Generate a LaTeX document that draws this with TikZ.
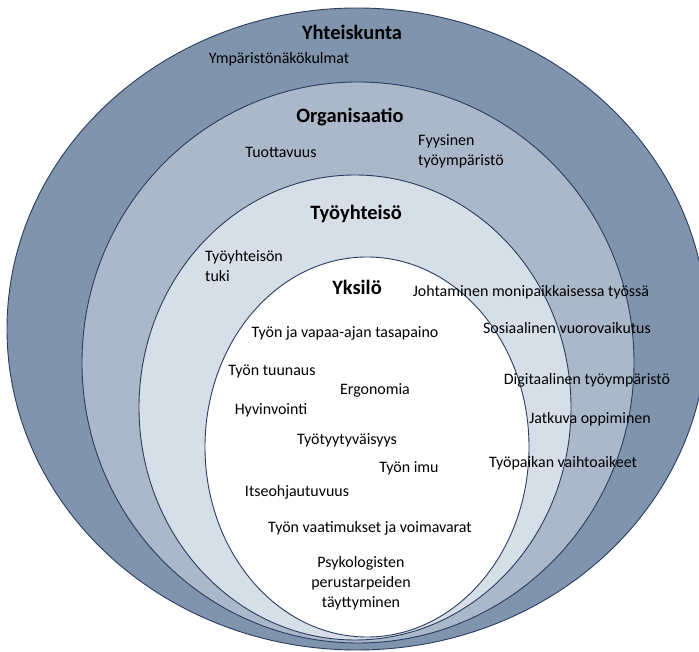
\documentclass[tikz,border=0pt]{standalone}
\usepackage{fontspec}
\setmainfont{Carlito}
\usetikzlibrary{positioning}

\definecolor{societycol}{rgb}{0.50,0.58,0.68}
\definecolor{orgcol}{rgb}{0.67,0.72,0.79}
\definecolor{teamcol}{rgb}{0.84,0.87,0.91}
\definecolor{edgecol}{rgb}{0.16,0.24,0.38}

\tikzset{
  ring/.style={draw=edgecol,line width=0.9bp},
  level/.style={font=\fontsize{20.5}{24}\selectfont\bfseries,inner sep=0pt},
  factor/.style={font=\fontsize{16}{20}\selectfont,inner sep=0pt},
}

\begin{document}
\begin{tikzpicture}[line join=bevel,]
\useasboundingbox (0bp,0bp) rectangle (699bp,652bp);
\clip (0bp,0bp) rectangle (699bp,652bp);

% Rings
\fill [societycol,ring] (357bp,323bp) ellipse [x radius=350bp,y radius=321bp];
\fill [orgcol,ring] (358bp,289.5bp) ellipse [x radius=276bp,y radius=280.5bp];
\fill [teamcol,ring] (355bp,244.5bp) ellipse [x radius=216bp,y radius=232.5bp];
\fill [white,ring] (367bp,205bp) ellipse [x radius=162bp,y radius=190bp];

% Node: Yhteiskunta
\node [level] (society) at (352bp,620bp) {Yhteiskunta};
\node [factor] (environment) at (279bp,593bp) {Ympäristönäkökulmat};

% Node: Organisaatio
\node [level] (organisation) at (350bp,535bp) {Organisaatio};
\node [factor] (productivity) at (281bp,500bp) {Tuottavuus};
\node [factor,align=left,anchor=west] (physical) at (418bp,501bp) {Fyysinen\\työympäristö};

% Node: Työyhteisö
\node [level] (community) at (356bp,438bp) {Työyhteisö};
\node [factor,align=left,anchor=west] (support) at (205bp,386bp) {Työyhteisön\\tuki};

% Node: Yksilö
\node [level] (individual) at (357bp,365bp) {Yksilö};
\node [factor] (leading) at (531bp,360bp) {Johtaminen monipaikkaisessa työssä};
\node [factor] (balance) at (345bp,319bp) {Työn ja vapaa-ajan tasapaino};
\node [factor] (interaction) at (567bp,324bp) {Sosiaalinen vuorovaikutus};
\node [factor] (crafting) at (272bp,280bp) {Työn tuunaus};
\node [factor] (ergonomics) at (375bp,262bp) {Ergonomia};
\node [factor] (digital) at (587bp,272bp) {Digitaalinen työympäristö};
\node [factor] (wellbeing) at (271bp,242bp) {Hyvinvointi};
\node [factor] (learning) at (590bp,233bp) {Jatkuva oppiminen};
\node [factor] (satisfaction) at (347bp,212bp) {Työtyytyväisyys};
\node [factor] (engagement) at (409bp,184bp) {Työn imu};
\node [factor] (turnover) at (563bp,189bp) {Työpaikan vaihtoaikeet};
\node [factor] (selfled) at (297bp,160bp) {Itseohjautuvuus};
\node [factor] (demands) at (370bp,124bp) {Työn vaatimukset ja voimavarat};
\node [factor,align=center] (needs) at (361bp,69bp) {Psykologisten\\perustarpeiden\\täyttyminen};

\end{tikzpicture}
\end{document}
